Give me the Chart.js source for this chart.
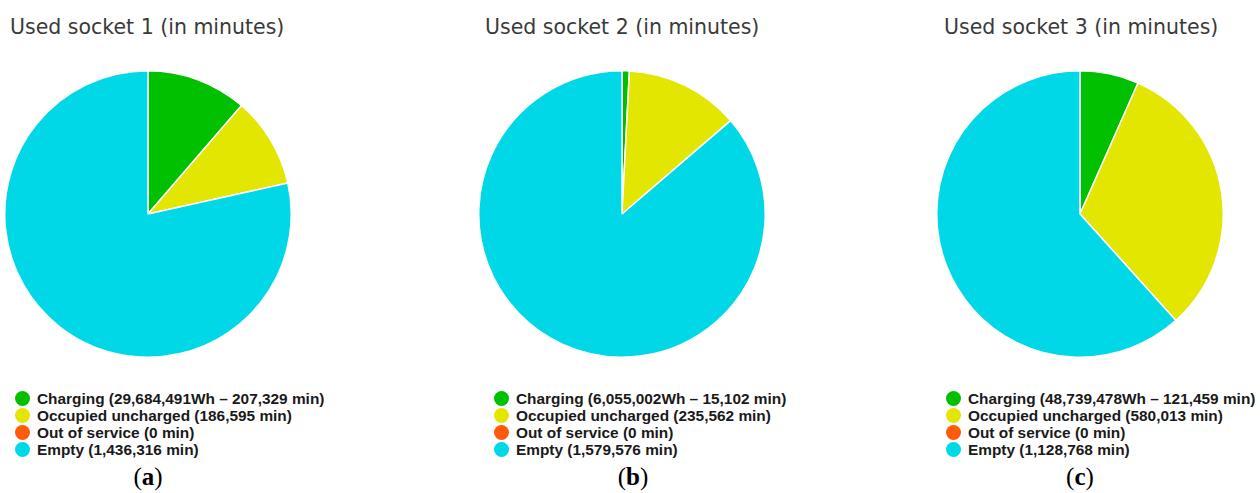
<!DOCTYPE html>
<html>
<head>
<meta charset="utf-8">
<script src="https://cdn.jsdelivr.net/npm/chart.js@4.4.1/dist/chart.umd.min.js"></script>
<style>
    body {
        margin: 0;
        background: #fff;
    }
    #page {
        position: relative;
        width: 1260px;
        height: 493px;
        overflow: hidden;
    }
    .title {
        position: absolute;
        top: 15px;
        font-family: "DejaVu Sans", sans-serif;
        font-size: 20.5px;
        color: #3a3a3a;
        white-space: nowrap;
    }
    .pie {
        position: absolute;
        top: 70px;
    }
    .legend {
        position: absolute;
        top: 390px;
        margin: 0;
        padding: 0;
        list-style: none;
        font-family: "Liberation Sans Narrow", "Liberation Sans", sans-serif;
        font-weight: bold;
        font-size: 15.4px;
        line-height: 17px;
        color: #1a1a1a;
        white-space: nowrap;
    }
    .legend li {
        position: relative;
        padding-left: 22px;
    }
    .legend .dot {
        position: absolute;
        left: 0;
        top: 1px;
        width: 15px;
        height: 15px;
        border-radius: 50%;
    }
    .caption {
        position: absolute;
        top: 463px;
        width: 60px;
        text-align: center;
        font-family: "Liberation Serif", "DejaVu Serif", serif;
        font-size: 25px;
        color: #000;
    }
    .caption b {
        font-weight: bold;
    }
</style>
</head>
<body>
<div id="page"></div>
<script>
// Socket usage data (minutes)
const categories = ['Charging', 'Occupied uncharged', 'Out of service', 'Empty'];
const socket1Minutes = [207329, 186595, 0, 1436316];
const socket2Minutes = [15102, 235562, 0, 1579576];
const socket3Minutes = [121459, 580013, 0, 1128768];
const chargingEnergyWh = [29684491, 6055002, 48739478];
const chartTitles = ['Used socket 1 (in minutes)', 'Used socket 2 (in minutes)', 'Used socket 3 (in minutes)'];
const captions = ['a', 'b', 'c'];

const colors = ['#00c000', '#e3e600', '#ff5a0a', '#00d8e8'];

// panel placement
const panels = [
    { data: socket1Minutes, cx: 148, titleX: 10, legendX: 15, captionX: 118 },
    { data: socket2Minutes, cx: 622, titleX: 485, legendX: 494, captionX: 603 },
    { data: socket3Minutes, cx: 1080, titleX: 944, legendX: 946, captionX: 1050 }
];

const page = document.getElementById('page');
const fmt = n => n.toLocaleString('en-US');

panels.forEach((p, i) => {
    const title = document.createElement('div');
    title.className = 'title';
    title.style.left = p.titleX + 'px';
    title.textContent = chartTitles[i];
    page.appendChild(title);

    const size = 288;
    const canvas = document.createElement('canvas');
    canvas.className = 'pie';
    canvas.width = size;
    canvas.height = size;
    canvas.style.left = (p.cx - size / 2) + 'px';
    page.appendChild(canvas);

    new Chart(canvas.getContext('2d'), {
        type: 'pie',
        data: {
            labels: categories,
            datasets: [{
                data: p.data,
                backgroundColor: colors,
                borderColor: '#ffffff',
                borderWidth: 1.5
            }]
        },
        options: {
            responsive: false,
            devicePixelRatio: 1,
            animation: false,
            layout: { padding: 0 },
            plugins: {
                legend: { display: false },
                tooltip: { enabled: false }
            }
        }
    });

    // legend below each pie
    const labels = [
        'Charging (' + fmt(chargingEnergyWh[i]) + 'Wh \u2013 ' + fmt(p.data[0]) + ' min)',
        'Occupied uncharged (' + fmt(p.data[1]) + ' min)',
        'Out of service (' + fmt(p.data[2]) + ' min)',
        'Empty (' + fmt(p.data[3]) + ' min)'
    ];
    const ul = document.createElement('ul');
    ul.className = 'legend';
    ul.style.left = p.legendX + 'px';
    labels.forEach((text, k) => {
        const li = document.createElement('li');
        const dot = document.createElement('span');
        dot.className = 'dot';
        dot.style.background = colors[k];
        li.appendChild(dot);
        li.appendChild(document.createTextNode(text));
        ul.appendChild(li);
    });
    page.appendChild(ul);

    const cap = document.createElement('div');
    cap.className = 'caption';
    cap.style.left = p.captionX + 'px';
    cap.innerHTML = '(<b>' + captions[i] + '</b>)';
    page.appendChild(cap);
});
</script>
</body>
</html>
